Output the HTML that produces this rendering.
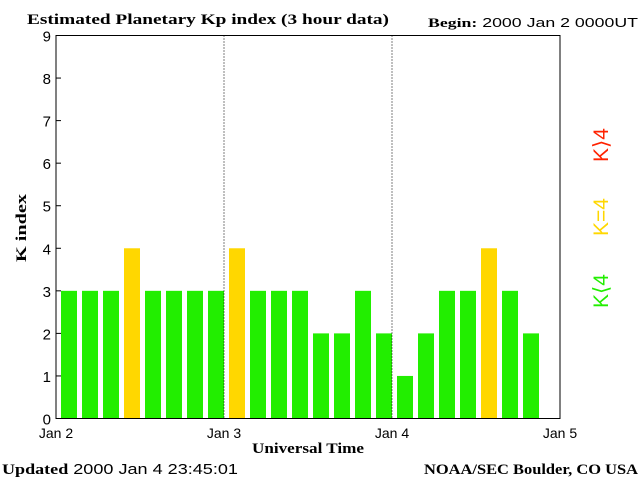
<!DOCTYPE html>
<html><head><meta charset="utf-8"><style>
body{margin:0;background:#fff;}
svg{display:block;font-family:"Liberation Sans",sans-serif;}
.serif{font-family:"Liberation Serif",serif;font-weight:bold;}
</style></head><body>
<svg id="c" width="640" height="480" xmlns="http://www.w3.org/2000/svg">
<text x="27" y="24" class="serif" font-size="15" textLength="362" lengthAdjust="spacingAndGlyphs">Estimated Planetary Kp index (3 hour data)</text>
<text x="428" y="27" font-size="13" textLength="210" lengthAdjust="spacingAndGlyphs"><tspan class="serif">Begin:</tspan>  2000 Jan 2 0000UT</text>
<text x="26" y="228" class="serif" font-size="15" textLength="68" lengthAdjust="spacingAndGlyphs" transform="rotate(-90 26 228)" text-anchor="middle">K index</text>
<text x="308" y="453" class="serif" font-size="15" textLength="112" lengthAdjust="spacingAndGlyphs" text-anchor="middle">Universal Time</text>
<text x="2" y="474" font-size="15" textLength="236" lengthAdjust="spacingAndGlyphs"><tspan class="serif">Updated</tspan> 2000 Jan  4 23:45:01</text>
<text x="424" y="474" class="serif" font-size="15" textLength="214" lengthAdjust="spacingAndGlyphs">NOAA/SEC Boulder, CO USA</text>
<text x="608" y="291" font-size="21" fill="#22ee00" transform="rotate(-90 608 291)" text-anchor="middle">K⟨4</text>
<text x="608" y="217" font-size="21" fill="#ffd700" transform="rotate(-90 608 217)" text-anchor="middle">K=4</text>
<text x="608" y="145" font-size="21" fill="#ff2200" transform="rotate(-90 608 145)" text-anchor="middle">K⟩4</text>
<g id="bars"></g>
<g id="axes"></g>
</svg>
<script>
const kpValues=[3,3,3,4,3,3,3,3, 4,3,3,3,2,2,3,2, 1,2,3,3,4,3,2];
const yTicks=[0,1,2,3,4,5,6,7,8,9];
const dayLabels=["Jan 2","Jan 3","Jan 4","Jan 5"];
const L=56,R=560,T=35.5,B=418.5,NS="http://www.w3.org/2000/svg";
const slots=24;
const xs=i=>L+(R-L)*i/slots;
const ys=v=>B-(B-T)*v/9;
const bars=document.getElementById('bars'),axes=document.getElementById('axes');
function mk(p,tag,a){const e=document.createElementNS(NS,tag);for(const k in a)e.setAttribute(k,a[k]);p.appendChild(e);return e;}
kpValues.forEach((v,i)=>{
 const col=v<4?"#22ee00":(v==4?"#ffd700":"#ff2200");
 const r=mk(bars,'rect',{x:xs(i)+5,y:ys(v),width:16,height:B-ys(v),fill:col});
 
 
});
for(let d=1;d<3;d++){
 const l=mk(axes,'line',{x1:xs(d*8),x2:xs(d*8),y1:T,y2:B,stroke:"#000","stroke-dasharray":"1 2"});
 
 
}
const fr=mk(axes,'rect',{x:L,y:T,width:R-L,height:B-T,fill:"none",stroke:"#000","stroke-width":1});


yTicks.forEach(v=>{
 mk(axes,'line',{x1:L,x2:L+5,y1:ys(v),y2:ys(v),stroke:"#000"});
 const t=mk(axes,'text',{x:L-5,y:ys(v)+6,"text-anchor":"end","font-size":"15"});
 t.textContent=v;
 
 
});
dayLabels.forEach((s,i)=>{
 const t=mk(axes,'text',{x:xs(i*8),y:438,"text-anchor":"middle","font-size":"14"});
 t.textContent=s;
 
 
});
</script>
</body></html>
